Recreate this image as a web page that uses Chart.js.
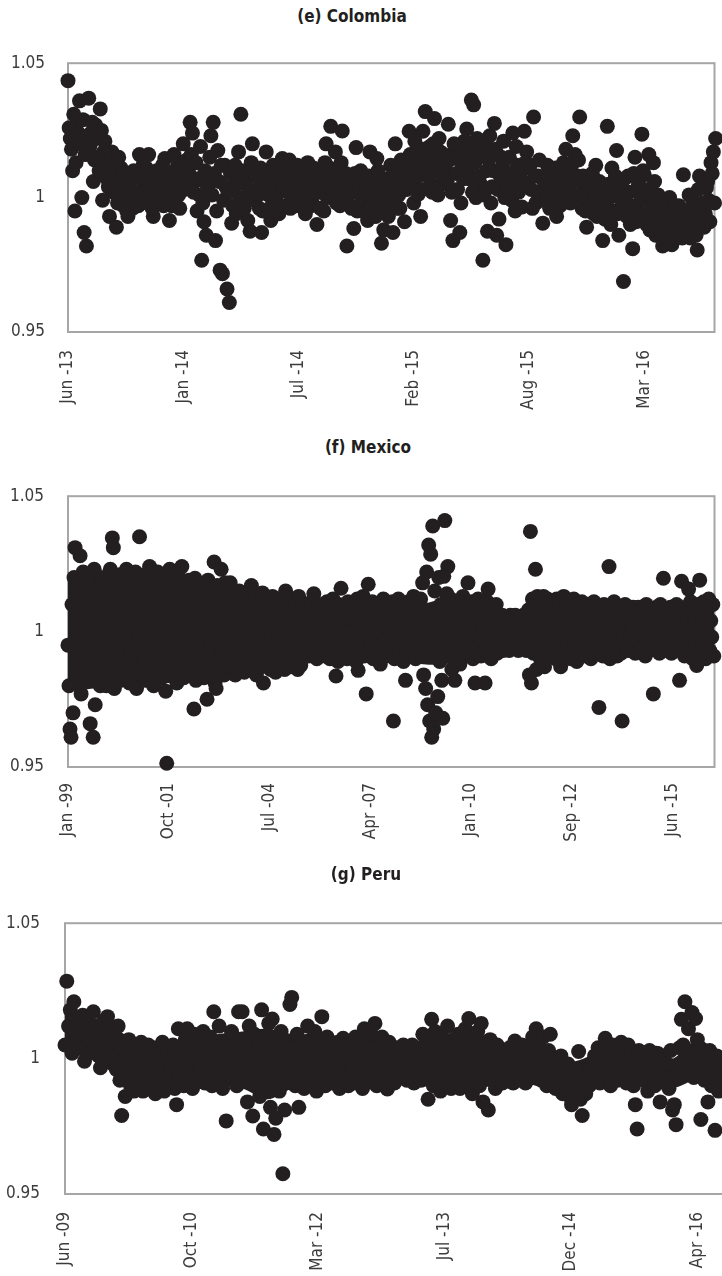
<!DOCTYPE html>
<html>
<head>
<meta charset="utf-8">
<script src="https://cdn.jsdelivr.net/npm/chart.js@4.4.1/dist/chart.umd.min.js"></script>
<style>
html,body{margin:0;padding:0;background:#fff;overflow:hidden;}
#page{position:relative;width:722px;height:1276px;overflow:hidden;}
canvas{position:absolute;left:0;}
.ttl{position:absolute;width:240px;text-align:center;font:bold 17px 'DejaVu Sans Condensed','DejaVu Sans',sans-serif;color:#231f20;line-height:20px;}
</style>
</head>
<body>
<div id="page">
  <div class="ttl" style="left:232px;top:6px">(e) Colombia</div>
  <canvas id="chartColombia" width="722" height="402" style="top:30px"></canvas>
  <div class="ttl" style="left:248px;top:437px">(f) Mexico</div>
  <canvas id="chartMexico" width="722" height="405" style="top:462px"></canvas>
  <div class="ttl" style="left:246px;top:864px">(g) Peru</div>
  <canvas id="chartPeru" width="740" height="388" style="top:888px"></canvas>
</div>
<script>
// y axis, shared by the three panels
const yTicks=[0.95,1,1.05];
const yTickLabels=['0.95','1','1.05'];

// (e) Colombia: two interleaved runs, days 0,4,8,... and 2,6,10,... from Jun-13
const colombiaTickDays=[0,200,400,600,800,1000];
const colombiaTickLabels=['Jun -13','Jan -14','Jul -14','Feb -15','Aug -15','Mar -16'];
const colombiaValues=[
1.0435,1.022,1.010,0.995,1.028,1.036,1.000,0.987,0.982,
1.037,1.024,1.006,1.027,1.015,1.033,0.999,1.021,1.007,
0.993,1.017,1.012,0.989,1.015,1.011,0.997,1.000,
0.993,1.003,0.996,1.008,1.001,1.016,0.998,1.006,1.011,
1.016,1.002,0.993,1.009,0.998,1.005,1.012,1.0145,
1.003,0.9915,0.997,1.016,1.007,1.001,1.011,1.020,1.006,
1.012,1.028,1.024,1.006,0.995,1.001,0.9767,0.991,0.986,
1.005,1.023,1.028,0.984,1.0175,0.973,0.9717,1.012,
0.966,0.961,0.9905,1.004,0.994,1.017,1.031,1.008,1.000,
0.9915,0.9875,1.020,1.010,1.003,0.996,0.987,1.007,1.017,
1.001,0.9915,1.012,0.998,1.008,1.003,1.0145,0.997,
1.009,1.014,1.001,1.006,0.997,1.011,1.003,0.999,0.994,
1.013,1.004,0.998,1.008,0.990,1.002,1.010,0.995,1.020,
1.006,1.0265,1.000,1.017,1.009,0.997,1.0248,1.004,
0.982,1.002,0.996,0.9885,1.0186,1.007,1.010,0.999,1.004,
0.9915,1.017,1.003,0.997,1.0145,1.006,0.983,0.988,
1.001,0.993,1.012,0.987,1.020,1.005,0.996,1.009,0.991,
1.003,1.0247,1.012,0.998,1.017,1.0013,0.993,1.0247,1.032,
1.008,1.019,1.002,1.0294,1.013,1.022,1.005,1.016,
1.010,1.0273,0.9915,0.984,1.018,1.003,0.987,1.012,1.021,
1.0255,1.007,1.0363,1.0345,1.000,1.015,1.005,0.9767,1.020,
0.9875,1.023,1.004,1.0276,0.986,0.992,1.015,1.021,
0.9825,1.009,1.001,1.024,0.995,1.012,1.006,0.9965,1.0247,
1.017,1.011,1.003,1.030,0.998,1.008,1.001,0.9905,
1.006,1.012,0.996,1.009,1.002,0.993,1.010,1.004,1.013,
1.018,1.005,0.998,1.023,1.016,1.008,1.030,0.996,1.002,
0.989,1.000,1.007,0.994,1.012,0.997,1.004,0.984,
0.992,1.0265,1.000,1.011,0.995,1.0175,0.986,1.004,0.9688,
0.998,1.008,0.990,0.981,1.015,0.995,1.003,1.0236,
1.0085,0.990,1.016,0.998,1.013,0.986,1.001,0.993,0.982,
0.995,0.988,1.000,0.9825,0.992,0.986,0.997,0.990,
1.0085,0.987,0.995,0.985,0.999,0.991,0.9805,1.008,0.996,
0.989,1.0037,0.999,1.013,1.017,1.022
];
const colombiaValuesMid=[
1.026,1.018,1.031,1.013,1.024,1.020,1.029,1.016,1.023,
1.019,1.028,1.014,1.022,1.010,1.025,1.017,1.012,1.004,
1.008,1.002,1.013,0.998,1.006,1.003,1.009,0.995,
1.005,0.999,1.010,1.002,0.997,1.007,1.012,1.000,1.004,
1.008,0.996,1.003,1.010,1.000,1.006,0.997,1.008,
1.002,1.009,0.999,1.004,1.012,0.996,1.008,1.003,1.014,
1.009,1.016,1.002,1.013,1.007,1.019,0.998,1.010,1.004,
1.015,1.001,1.009,0.995,1.006,1.012,0.999,1.004,
1.002,1.009,0.997,1.012,1.005,1.000,1.010,0.996,1.007,
1.003,1.013,0.999,1.008,1.001,1.011,0.995,1.005,1.009,
0.996,1.006,1.010,1.001,0.994,1.009,1.004,1.011,
1.002,0.996,1.008,1.004,1.012,0.999,1.006,1.009,1.001,
1.006,0.997,1.011,1.002,1.007,0.996,1.004,1.013,1.000,
1.011,1.003,1.008,0.998,1.005,1.013,1.001,1.009,
0.998,1.006,1.002,1.009,0.995,1.004,0.999,1.007,0.994,
1.008,0.999,1.005,0.993,1.010,1.001,0.996,1.006,
1.007,0.998,1.004,1.010,0.996,1.001,1.014,1.003,1.008,
1.010,1.016,1.005,1.021,1.008,1.013,1.003,1.018,1.010,
1.015,1.005,1.020,1.010,1.001,1.017,1.008,1.012,
1.006,1.014,1.002,1.020,1.009,1.015,0.998,1.007,1.016,
1.011,1.019,1.002,1.013,1.022,1.008,1.017,1.001,1.010,
1.014,0.998,1.010,1.018,1.003,1.008,1.012,1.000,
1.004,1.015,0.999,1.008,1.019,1.002,1.010,1.006,1.013,
1.005,1.012,0.996,1.008,1.002,1.014,0.999,1.006,
1.000,1.008,1.003,0.998,1.011,1.005,0.997,1.007,1.001,
1.010,1.003,1.012,0.999,1.006,1.014,1.001,1.008,0.995,
1.004,0.996,1.009,1.001,0.993,1.006,0.999,1.003,
0.996,1.005,0.990,1.001,1.008,0.994,1.003,0.998,1.007,
0.993,1.002,0.997,1.009,0.991,1.005,0.999,1.010,
0.994,1.003,0.988,0.997,1.006,0.992,0.996,0.989,0.999,
0.991,0.984,0.994,0.989,0.997,0.987,0.992,0.985,
0.993,0.988,1.001,0.990,0.995,0.986,1.003,0.992,0.998,
0.994,1.006,0.991,1.009,0.998
];

// (f) Mexico, one point every 10 days from Jan-99
const mexicoTickDays=[0,1000,2000,3000,4000,5000,6000];
const mexicoTickLabels=['Jan -99','Oct -01','Jul -04','Apr -07','Jan -10','Sep -12','Jun -15'];
const mexicoValues=[
0.995,0.980,0.964,0.961,1.010,0.970,1.020,1.031,0.985,1.005,0.990,1.015,1.028,
0.977,1.000,1.022,0.988,1.008,0.982,1.013,0.996,1.018,0.966,
1.003,0.991,0.961,1.023,0.973,1.010,0.985,1.016,0.999,0.980,
1.005,0.983,1.020,0.993,1.011,0.980,1.016,0.998,0.988,1.023,
1.008,1.0346,1.031,0.979,1.002,0.986,1.014,0.995,1.021,0.982,
1.010,0.990,1.018,1.000,0.984,1.023,0.996,1.006,0.981,1.013,
0.992,1.019,0.987,1.004,1.022,0.979,1.009,0.997,1.035,0.984,
1.015,1.001,0.989,1.021,0.982,1.007,0.994,1.012,1.024,0.986,
1.003,1.017,0.980,0.998,1.010,0.991,1.022,0.985,1.006,1.014,
0.983,0.995,1.019,1.001,0.978,0.9514,1.009,0.988,1.023,
0.997,1.019,0.984,1.008,0.992,1.014,0.981,1.002,1.020,0.988,
1.011,1.024,0.995,0.983,1.016,1.000,0.990,1.006,1.019,0.986,
1.009,0.996,1.013,0.9714,1.0197,0.982,1.003,0.993,1.017,0.988,
1.007,0.999,1.015,0.983,1.011,0.991,0.975,1.019,1.002,0.986,
1.013,0.995,1.008,1.0257,0.981,0.979,1.017,0.999,0.989,1.005,
1.023,0.993,1.012,0.984,1.018,1.001,0.987,1.009,0.996,
1.018,0.986,1.006,0.995,1.013,0.984,1.001,1.010,0.991,1.015,
0.988,1.004,0.997,1.012,0.985,1.008,0.993,1.014,0.999,0.987,
1.011,1.017,0.990,1.005,0.996,1.013,0.984,1.002,1.009,0.992,
1.014,0.987,1.0143,0.981,1.006,0.995,1.011,0.989,1.003,1.008,
0.986,0.998,1.013,0.991,1.007,0.985,1.010,1.001,0.994,1.012,
0.988,1.005,0.997,1.011,0.986,1.015,1.003,0.992,1.009,0.999,
0.987,1.012,0.995,1.006,0.989,1.010,1.001,0.986,1.013,
1.002,0.9875,1.009,0.996,1.006,0.992,1.010,0.999,1.004,0.991,
1.008,0.997,1.011,1.001,1.014,0.993,1.005,0.990,1.009,0.998,
1.003,0.992,1.010,0.996,1.007,0.991,1.001,1.011,0.994,1.005,
0.990,1.008,0.997,1.012,1.000,0.993,0.9836,1.006,0.989,1.010,
0.996,1.016,1.002,0.991,1.009,0.998,1.004,0.990,1.011,0.995,
1.007,1.000,0.992,1.010,0.997,1.005,0.989,1.012,0.9857,1.003,
0.994,1.009,0.999,1.013,0.991,1.006,0.977,1.001,1.0175,0.993,
1.008,0.996,1.011,0.990,1.004,0.998,1.010,0.992,1.006,1.000,
0.988,1.009,0.995,1.012,1.002,0.991,1.007,0.997,1.010,0.993,
1.005,0.999,1.011,0.967,0.990,1.008,0.996,1.003,1.012,0.992,
1.006,0.998,1.010,0.989,1.002,0.982,1.008,0.995,1.011,0.999,
0.991,1.007,0.997,1.013,1.001,0.990,1.009,0.996,
1.004,0.992,1.012,0.997,1.018,0.984,1.008,0.979,1.022,0.973,
1.032,0.967,1.0286,0.961,1.039,0.964,1.015,0.970,1.003,0.976,
1.020,0.989,1.010,0.982,0.968,1.0204,1.041,0.995,1.014,1.024,
1.006,0.993,1.012,0.986,1.001,1.009,0.982,0.997,1.011,0.990,
1.004,0.988,1.010,0.995,1.013,0.991,1.002,1.008,0.997,1.018,
0.992,1.006,1.011,0.999,0.990,1.009,0.981,1.003,0.994,1.012,
0.998,1.007,0.991,1.010,1.001,0.993,0.981,1.005,1.011,1.0157,
0.996,1.009,0.990,1.003,1.008,0.994,1.000,1.010,0.992,
1.005,0.994,1.001,0.997,1.006,0.993,1.003,0.999,1.005,0.995,
1.002,0.993,1.006,0.998,1.004,0.994,1.000,1.006,0.996,1.003,
0.993,1.005,0.999,1.002,0.995,1.006,0.997,1.004,0.993,1.001,
1.008,0.984,1.037,0.981,1.012,0.992,1.004,1.023,0.986,1.013,
0.997,1.010,0.990,1.006,0.994,1.013,0.987,
1.009,0.993,1.012,0.998,1.005,0.991,1.011,1.001,0.995,1.008,
0.990,1.012,1.003,0.994,1.010,0.987,1.006,0.997,1.013,1.000,
0.992,1.009,0.996,1.011,1.002,0.990,1.007,0.998,1.012,0.993,
1.005,0.989,1.010,0.999,1.004,0.992,1.011,0.996,1.008,1.001,0.991,1.006,
1.010,0.995,1.003,0.990,1.008,0.998,1.011,0.992,1.005,1.000,
0.993,0.972,1.009,0.996,1.004,0.991,1.010,1.001,0.994,1.007,
0.997,1.024,0.990,1.006,1.002,0.993,1.011,0.998,1.004,0.991,
1.009,0.996,1.003,0.992,0.967,1.008,0.999,1.010,0.994,1.005,
0.993,1.008,0.998,1.004,0.994,1.009,1.001,0.992,1.006,0.997,
1.009,0.993,1.003,0.999,1.008,0.994,1.005,0.991,1.010,0.998,
1.003,0.993,1.008,0.996,1.006,0.977,1.001,0.994,1.009,0.998,
1.004,0.992,1.010,0.997,1.006,1.0197,0.993,1.002,1.008,0.995,
1.004,0.999,1.009,0.992,1.005,0.997,
1.006,0.993,1.010,0.998,1.003,0.982,1.008,1.0186,0.995,1.001,
0.991,1.009,0.997,1.005,1.0157,0.993,1.011,1.000,0.990,1.007,
0.996,1.004,0.9875,1.010,0.999,1.019,0.992,1.006,0.995,1.011,
1.001,0.990,1.008,0.997,1.012,0.993,1.004,0.998,1.010,0.991
];
// solid core of the Mexico band (upper and lower edge)
const mexicoCoreDays=[0,250,500,750,1000,1250,1500,1750,2000,2250,2500,2750,3000,3250,3500,3750,4000,4250,4500,4750,5000,5250,5500,5750,6000,6250,6500];
const mexicoCoreHigh=[1.020,1.021,1.021,1.021,1.020,1.018,1.017,1.013,1.011,1.010,1.009,1.009,1.009,1.009,1.010,1.012,1.010,1.007,1.005,1.010,1.010,1.009,1.009,1.008,1.008,1.009,1.009];
const mexicoCoreLow=[0.978,0.979,0.980,0.980,0.981,0.983,0.983,0.985,0.987,0.989,0.990,0.990,0.990,0.991,0.988,0.988,0.990,0.992,0.994,0.991,0.991,0.991,0.991,0.992,0.992,0.991,0.991];

// (g) Peru, one point every 7 days from Jun-09
const peruTickDays=[0,500,1000,1500,2000,2500];
const peruTickLabels=['Jun -09','Oct -10','Mar -12','Jul -13','Dec -14','Apr -16'];
const peruValues=[
1.005,1.0286,1.012,1.018,1.002,1.021,1.008,1.014,1.004,1.010,1.016,0.999,
1.008,1.013,1.002,1.010,1.0173,1.004,1.012,1.001,0.9966,1.009,
1.014,1.003,1.0155,1.006,1.011,1.000,1.008,0.996,1.012,0.992,
0.979,1.004,0.986,0.998,1.007,0.990,1.002,0.988,
1.003,0.991,0.998,1.006,0.988,1.001,0.995,1.005,0.989,0.999,
1.004,0.987,0.996,1.002,0.992,1.006,0.988,0.999,1.003,0.991,
0.997,1.005,0.989,0.983,1.011,0.994,1.002,0.990,1.007,1.011,
0.995,1.004,0.989,1.009,1.000,0.993,1.007,0.997,1.010,0.991,
1.003,0.995,1.008,0.990,1.0173,1.001,0.994,1.012,0.998,0.989,
1.006,0.977,1.002,0.993,1.010,0.997,1.005,0.990,1.0173,1.000,
1.0173,0.995,1.006,0.984,1.012,0.999,0.9788,1.009,0.990,1.003,
0.986,1.018,0.974,1.008,0.996,1.013,0.982,1.0146,0.972,0.978,
1.002,0.988,1.010,0.9575,0.981,1.005,
0.996,1.020,1.0226,1.004,0.990,1.009,0.982,0.998,1.006,0.989,
1.001,1.012,0.993,1.007,0.997,1.010,0.988,1.003,0.994,1.0155,
0.999,0.990,1.008,0.995,1.004,
0.991,1.001,0.996,1.006,0.989,0.999,1.0075,0.993,1.003,0.990,
1.005,0.997,0.991,1.008,1.000,0.994,1.006,0.989,1.011,0.998,
1.003,0.992,1.009,0.996,1.013,0.990,1.004,0.998,1.008,0.993,
1.001,0.9888,1.006,0.996,1.002,
0.991,1.004,0.997,1.001,0.993,1.005,0.999,0.992,1.003,0.996,
1.005,0.991,1.000,0.995,
1.004,0.992,1.009,0.997,1.006,0.985,1.001,1.0145,0.990,1.010,
0.995,1.003,0.988,1.008,0.998,0.993,1.012,1.005,0.989,1.000,
1.007,
0.994,1.009,0.989,1.004,0.998,1.011,0.992,1.0148,1.001,0.987,
1.006,0.995,1.010,0.990,1.013,0.984,1.003,0.996,0.981,1.007,
0.992,1.001,0.989,1.005,
0.995,1.003,0.991,0.999,1.002,0.993,1.004,0.997,0.991,1.0065,
0.996,1.002,0.992,1.005,0.998,0.991,1.004,0.995,1.001,1.008,
0.993,
1.011,0.996,1.004,0.992,1.008,0.998,0.990,1.003,1.009,0.994,
1.000,0.989,0.997,0.992,1.001,0.987,0.995,0.990,0.998,0.986,
0.983,0.993,0.988,0.996,1.0026,0.985,0.979,0.991,0.987,0.995,
0.990,0.997,0.993,1.001,0.996,1.004,0.991,0.999,1.003,1.0075,
0.994,1.002,0.990,1.005,0.997,1.001,0.992,1.004,1.006,0.995,
1.000,0.991,1.005,0.996,1.002,0.990,0.983,0.974,1.003,0.995,
1.001,0.992,0.997,0.988,1.003,0.994,0.999,0.990,1.002,1.0018,
0.984,0.996,1.000,0.991,0.998,0.989,1.003,0.981,0.983,0.9756,
0.994,1.004,
1.0145,1.005,1.021,0.995,1.011,1.000,1.017,0.993,1.0148,1.007,
0.997,
0.9775,1.002,0.992,0.998,0.984,1.003,0.990,0.996,0.9735,1.001,0.988
];
// solid core of the Peru band (upper and lower edge)
const peruCoreDays=[0,100,200,300,400,500,600,700,800,900,1000,1100,1200,1300,1400,1500,1600,1700,1800,1900,2000,2100,2200,2300,2400,2500,2600];
const peruCoreHigh=[1.016,1.013,1.011,1.005,1.005,1.008,1.009,1.010,1.011,1.009,1.009,1.007,1.008,1.005,1.006,1.009,1.010,1.007,1.004,1.004,0.999,1.002,1.005,1.002,1.000,1.007,1.001];
const peruCoreLow=[1.002,1.000,0.994,0.988,0.988,0.990,0.990,0.989,0.985,0.989,0.989,0.990,0.990,0.991,0.990,0.989,0.989,0.990,0.991,0.989,0.986,0.990,0.991,0.990,0.989,0.992,0.988];

const dotColor='#231f20';
const tickColor='#3c3c3c';
const tickFont={family:"'DejaVu Sans Condensed','DejaVu Sans',sans-serif",size:17};

const frame={
  id:'frame',
  beforeDatasetsDraw(chart){
    const {ctx,chartArea:a}=chart;
    ctx.save();
    ctx.strokeStyle='#a6a6a6';
    ctx.lineWidth=2;
    ctx.strokeRect(a.left,a.top,a.right-a.left,a.bottom-a.top);
    ctx.restore();
  }
};

function pts(xs,ys){return xs.map((x,i)=>({x,y:ys[i]}));}

// runs: [{values,start,step}] -> one scatter dataset
function makePanel(id,runs,maxDay,tickDays,tickLabels,core,o){
  const points=[];
  runs.forEach(r=>r.values.forEach((v,i)=>points.push({x:r.start+i*r.step,y:v})));
  const datasets=[{
    data:points,
    backgroundColor:dotColor,
    borderWidth:0,
    pointRadius:7.5,
    pointHoverRadius:7.5,
    clip:false
  }];
  if(core){
    datasets.push({type:'line',data:pts(core.days,core.high),borderWidth:0,pointRadius:0,fill:false,tension:0.3});
    datasets.push({type:'line',data:pts(core.days,core.low),borderWidth:0,pointRadius:0,tension:0.3,fill:'-1',backgroundColor:dotColor});
  }
  new Chart(document.getElementById(id).getContext('2d'),{
    type:'scatter',
    data:{datasets},
    options:{
      responsive:false,
      animation:false,
      events:[],
      layout:{padding:{top:25,right:o.padRight,left:0,bottom:0}},
      plugins:{legend:{display:false},tooltip:{enabled:false},title:{display:false}},
      scales:{
        x:{
          type:'linear',min:0,max:maxDay,
          grid:{display:false,drawTicks:false},
          border:{display:false},
          afterBuildTicks:s=>{s.ticks=tickDays.map(v=>({value:v}));},
          afterFit:s=>{s.height=o.xHeight;},
          ticks:{autoSkip:false,minRotation:90,maxRotation:90,padding:o.xPad,color:tickColor,font:tickFont,
            callback:(v,i)=>tickLabels[i]}
        },
        y:{
          min:0.95,max:1.05,
          grid:{display:false,drawTicks:false},
          border:{display:false},
          afterBuildTicks:s=>{s.ticks=yTicks.map(v=>({value:v}));},
          afterFit:s=>{s.width=o.left;},
          ticks:{padding:o.yPad,color:tickColor,font:tickFont,callback:(v,i)=>yTickLabels[i]}
        }
      }
    },
    plugins:[frame]
  });
}

makePanel('chartColombia',
  [{values:colombiaValues,start:0,step:4},{values:colombiaValuesMid,start:2,step:4}],
  1122,colombiaTickDays,colombiaTickLabels,null,
  {padRight:2,xHeight:100,xPad:18,left:68,yPad:23});
makePanel('chartMexico',
  [{values:mexicoValues,start:0,step:10}],
  6417,mexicoTickDays,mexicoTickLabels,
  {days:mexicoCoreDays,high:mexicoCoreHigh,low:mexicoCoreLow},
  {padRight:4,xHeight:100,xPad:16,left:68,yPad:24});
makePanel('chartPeru',
  [{values:peruValues,start:0,step:7}],
  2638,peruTickDays,peruTickLabels,
  {days:peruCoreDays,high:peruCoreHigh,low:peruCoreLow},
  {padRight:5,xHeight:82,xPad:18,left:65,yPad:25});
</script>
</body>
</html>
